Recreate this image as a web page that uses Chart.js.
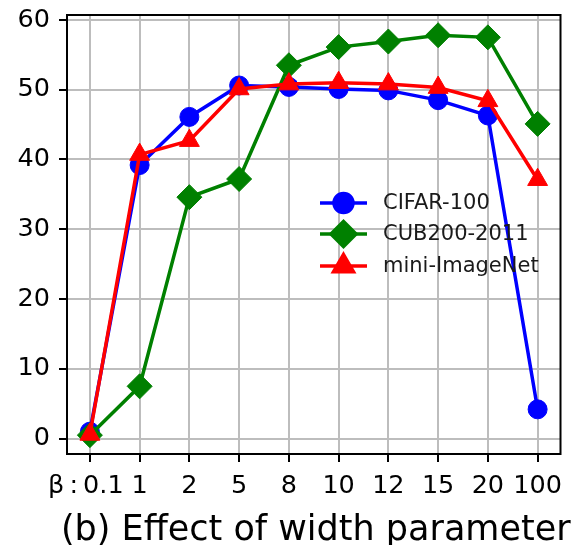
<!DOCTYPE html>
<html>
<head>
<meta charset="utf-8">
<script src="https://cdn.jsdelivr.net/npm/chart.js@4"></script>
<style>
  html, body { margin: 0; padding: 0; background: #fff; }
  #wrap { width: 574px; height: 545px; }
</style>
</head>
<body>
<div id="wrap"><canvas id="c" width="574" height="545"></canvas></div>
<script>
// ---- data ----
const betaLabels = ['β\u2009:\u20090.1 ', '1', '2', '5', '8', '10', '12', '15', '20', '100'];
const cifar100 = [1.0, 39.2, 46.1, 50.6, 50.4, 50.1, 49.9, 48.5, 46.3, 4.2];
const cub2002011 = [0.5, 7.5, 34.6, 37.2, 53.5, 56.1, 56.9, 57.8, 57.5, 45.1];
const miniImageNet = [0.6, 40.7, 42.7, 50.1, 50.8, 51.0, 50.8, 50.3, 48.4, 37.1];
const yTickValues = [0, 10, 20, 30, 40, 50, 60];
const seriesNames = ['CIFAR-100', 'CUB200-2011', 'mini-ImageNet'];
const chartTitle = '(b) Effect of width parameter';

const FONT = '"DejaVu Sans", sans-serif';
const toXY = arr => arr.map((v, i) => ({ x: i, y: v }));

const frameAndTitle = {
  id: 'frameAndTitle',
  afterDraw(chart) {
    const { ctx, chartArea: a } = chart;
    ctx.save();
    ctx.strokeStyle = '#000';
    ctx.lineWidth = 2;
    ctx.strokeRect(a.left, a.top, a.right - a.left, a.bottom - a.top);
    ctx.fillStyle = '#000';
    ctx.font = '35px ' + FONT;
    ctx.textAlign = 'center';
    ctx.textBaseline = 'alphabetic';
    ctx.fillText(chartTitle, (a.left + a.right) / 2 + 2, 540);
    ctx.restore();
  }
};

const innerLegend = {
  id: 'innerLegend',
  afterDatasetsDraw(chart) {
    const { ctx } = chart;
    const x0 = 320, x1 = 367, tx = 383;
    const rows = [203, 234, 266];
    ctx.save();
    chart.data.datasets.forEach((ds, i) => {
      const y = rows[i];
      ctx.strokeStyle = ds.borderColor;
      ctx.lineWidth = ds.borderWidth;
      ctx.beginPath();
      ctx.moveTo(x0, y);
      ctx.lineTo(x1, y);
      ctx.stroke();
      ctx.fillStyle = ds.pointBackgroundColor;
      ctx.strokeStyle = ds.pointBorderColor;
      Chart.helpers.drawPoint(ctx, {
        pointStyle: ds.pointStyle,
        radius: ds.pointRadius,
        rotation: 0,
        borderWidth: 1
      }, (x0 + x1) / 2, y);
      ctx.fillStyle = '#1a1a1a';
      ctx.font = '21px ' + FONT;
      ctx.textAlign = 'left';
      ctx.textBaseline = 'middle';
      ctx.fillText(ds.label, tx, y + 1);
    });
    ctx.restore();
  }
};

function makeDs(label, data, color, style, radius, order) {
  return {
    label, data: toXY(data),
    borderColor: color, backgroundColor: color,
    pointBackgroundColor: color, pointBorderColor: color,
    pointStyle: style, pointRadius: radius, pointHoverRadius: radius,
    pointBorderWidth: 1,
    borderWidth: 3.5, tension: 0, order
  };
}

new Chart(document.getElementById('c'), {
  type: 'line',
  data: {
    datasets: [
      makeDs(seriesNames[0], cifar100, '#0000ff', 'circle', 9.5, 3),
      makeDs(seriesNames[1], cub2002011, '#008000', 'rectRot', 12.5, 2),
      makeDs(seriesNames[2], miniImageNet, '#ff0000', 'triangle', 11.5, 1)
    ]
  },
  options: {
    responsive: false,
    animation: false,
    devicePixelRatio: 1,
    layout: { padding: { top: 15, right: 11, left: 0, bottom: 0 } },
    plugins: { legend: { display: false }, tooltip: { enabled: false }, title: { display: false } },
    scales: {
      x: {
        type: 'linear',
        min: -0.46, max: 9.46,
        afterBuildTicks: s => { s.ticks = betaLabels.map((_, i) => ({ value: i })); },
        afterFit: s => { s.height = 91; s.paddingLeft = 0; s.paddingRight = 0; },
        ticks: {
          callback: (v) => betaLabels[v],
          color: '#000', font: { family: FONT, size: 25.5 }, padding: 9,
          maxRotation: 0, autoSkip: false
        },
        grid: { color: '#bdbdbd', lineWidth: 2, tickColor: '#000', tickLength: 8, tickWidth: 2 },
        border: { display: false }
      },
      y: {
        type: 'linear',
        min: -2.2, max: 60.7,
        afterBuildTicks: s => { s.ticks = yTickValues.map(v => ({ value: v })); },
        afterFit: s => { s.width = 67; s.paddingTop = 0; s.paddingBottom = 0; },
        ticks: {
          callback: v => String(v),
          color: '#000', font: { family: FONT, size: 25.5 }, padding: 9
        },
        grid: { color: '#bdbdbd', lineWidth: 2, tickColor: '#000', tickLength: 8, tickWidth: 2 },
        border: { display: false }
      }
    }
  },
  plugins: [frameAndTitle, innerLegend]
});
</script>
</body>
</html>
